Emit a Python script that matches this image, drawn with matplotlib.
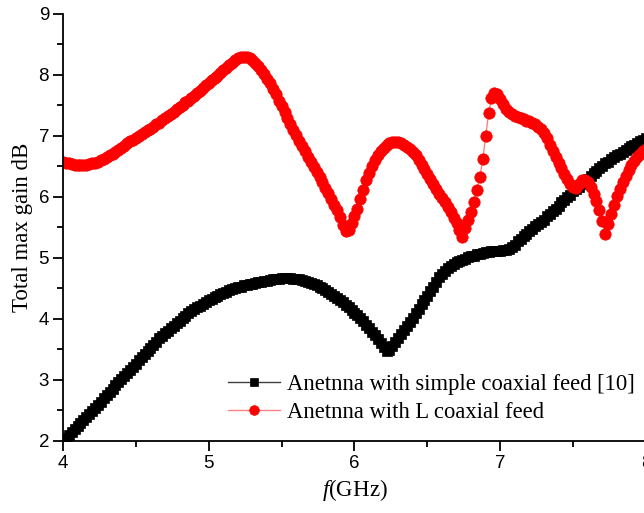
import numpy as np
import matplotlib
matplotlib.use("Agg")
import matplotlib.pyplot as plt
from matplotlib.ticker import MultipleLocator

plt.rcParams["mathtext.fontset"] = "custom"
plt.rcParams["mathtext.rm"] = "Liberation Serif"
plt.rcParams["mathtext.it"] = "Liberation Serif:italic"

# frequency grid (GHz), one sample every 0.02 GHz
freq = np.round(np.arange(4.0, 8.0001, 0.02), 2)

# Anetnna with simple coaxial feed [10]
gain_simple = [
    2.00, 2.05, 2.10, 2.15, 2.19, 2.24, 2.29, 2.34, 2.39, 2.44,
    2.49, 2.54, 2.59, 2.64, 2.70, 2.75, 2.80, 2.85, 2.91, 2.96,
    3.01, 3.06, 3.11, 3.16, 3.22, 3.27, 3.32, 3.37, 3.43, 3.48,
    3.53, 3.58, 3.63, 3.68, 3.72, 3.77, 3.81, 3.85, 3.89, 3.93,
    3.97, 4.01, 4.05, 4.09, 4.13, 4.16, 4.19, 4.22, 4.25, 4.28,
    4.31, 4.33, 4.36, 4.38, 4.41, 4.43, 4.45, 4.47, 4.49, 4.50,
    4.52, 4.53, 4.55, 4.56, 4.57, 4.58, 4.59, 4.60, 4.61, 4.62,
    4.63, 4.64, 4.65, 4.66, 4.66, 4.67, 4.67, 4.67, 4.67, 4.66,
    4.66, 4.65, 4.64, 4.62, 4.61, 4.59, 4.57, 4.55, 4.53, 4.50,
    4.47, 4.44, 4.41, 4.38, 4.34, 4.31, 4.27, 4.23, 4.19, 4.15,
    4.10, 4.06, 4.01, 3.96, 3.90, 3.85, 3.79, 3.73, 3.67, 3.61,
    3.54, 3.47, 3.49, 3.56, 3.63, 3.69, 3.76, 3.82, 3.89, 3.95,
    4.02, 4.09, 4.16, 4.24, 4.31, 4.38, 4.46, 4.53, 4.61, 4.68,
    4.74, 4.79, 4.83, 4.87, 4.90, 4.93, 4.95, 4.97, 4.99, 5.01,
    5.03, 5.04, 5.06, 5.07, 5.08, 5.09, 5.10, 5.11, 5.11, 5.12,
    5.12, 5.13, 5.13, 5.14, 5.18, 5.22, 5.27, 5.31, 5.36, 5.40,
    5.44, 5.48, 5.52, 5.55, 5.59, 5.63, 5.68, 5.72, 5.77, 5.81,
    5.86, 5.91, 5.95, 6.00, 6.04, 6.09, 6.13, 6.17, 6.22, 6.26,
    6.30, 6.34, 6.39, 6.43, 6.47, 6.51, 6.55, 6.58, 6.62, 6.65,
    6.68, 6.71, 6.74, 6.77, 6.80, 6.83, 6.86, 6.89, 6.92, 6.94,
    6.96,
]

# Anetnna with L coaxial feed
gain_l = [
    6.57, 6.56, 6.55, 6.54, 6.53, 6.53, 6.52, 6.53, 6.53, 6.54,
    6.55, 6.56, 6.58, 6.60, 6.62, 6.65, 6.68, 6.71, 6.74, 6.77,
    6.81, 6.84, 6.88, 6.91, 6.94, 6.97, 7.00, 7.03, 7.06, 7.09,
    7.12, 7.15, 7.19, 7.22, 7.26, 7.29, 7.33, 7.36, 7.40, 7.44,
    7.47, 7.51, 7.55, 7.58, 7.62, 7.66, 7.70, 7.74, 7.78, 7.83,
    7.87, 7.91, 7.95, 7.99, 8.04, 8.08, 8.12, 8.16, 8.20, 8.24,
    8.27, 8.29, 8.30, 8.29, 8.27, 8.24, 8.19, 8.14, 8.08, 8.01,
    7.94, 7.86, 7.77, 7.68, 7.58, 7.49, 7.39, 7.29, 7.19, 7.10,
    7.01, 6.92, 6.84, 6.75, 6.66, 6.58, 6.49, 6.41, 6.32, 6.24,
    6.15, 6.06, 5.97, 5.87, 5.78, 5.67, 5.54, 5.44, 5.46, 5.57,
    5.69, 5.80, 5.96, 6.12, 6.28, 6.40, 6.51, 6.61, 6.69, 6.76,
    6.81, 6.85, 6.88, 6.90, 6.90, 6.90, 6.88, 6.85, 6.82, 6.78,
    6.74, 6.68, 6.61, 6.53, 6.46, 6.38, 6.29, 6.21, 6.13, 6.05,
    5.98, 5.91, 5.83, 5.75, 5.66, 5.57, 5.46, 5.35, 5.49, 5.62,
    5.76, 5.92, 6.11, 6.32, 6.62, 7.00, 7.37, 7.62, 7.70, 7.68,
    7.60, 7.52, 7.45, 7.40, 7.36, 7.33, 7.31, 7.29, 7.27, 7.25,
    7.24, 7.22, 7.19, 7.15, 7.11, 7.05, 6.96, 6.86, 6.76, 6.66,
    6.56, 6.47, 6.38, 6.30, 6.22, 6.16, 6.15, 6.22, 6.27, 6.28,
    6.24, 6.16, 6.05, 5.93, 5.78, 5.60, 5.39, 5.55, 5.72, 5.87,
    6.02, 6.13, 6.24, 6.34, 6.44, 6.52, 6.59, 6.65, 6.71, 6.75,
    6.79,
]

labels = ["Anetnna with simple coaxial feed [10]", "Anetnna with L coaxial feed"]

serif = "Liberation Serif"
sans = "Liberation Sans"

fig = plt.figure(figsize=(6.44, 5.13), dpi=100)
ax = fig.add_axes([0.0978, 0.1404, 0.9053, 0.8324])

ax.plot(freq, gain_simple, color="#404040", lw=1.0, marker="s", ms=7.4,
        mfc="black", mec="black", mew=0.5, label=labels[0])
ax.plot(freq, gain_l, color="#ff8080", lw=1.0, marker="o", ms=8.2,
        mfc="red", mec="red", mew=0.5, label=labels[1])

ax.set_xlim(4, 8)
ax.set_ylim(2, 9)
ax.xaxis.set_major_locator(MultipleLocator(1))
ax.xaxis.set_minor_locator(MultipleLocator(0.5))
ax.yaxis.set_major_locator(MultipleLocator(1))
ax.yaxis.set_minor_locator(MultipleLocator(0.5))

ax.spines["top"].set_visible(False)
ax.spines["right"].set_visible(False)
for s in ["left", "bottom"]:
    ax.spines[s].set_linewidth(1.3)

ax.tick_params(which="major", direction="out", length=7, width=1.3,
               labelsize=13.5, pad=3)
ax.tick_params(which="minor", direction="out", length=4, width=1.3)
for lab in ax.get_xticklabels() + ax.get_yticklabels():
    lab.set_fontfamily(sans)

ax.set_xlabel(r"$\mathit{f}$(GHz)", fontsize=16.5, fontfamily=serif)
ax.set_ylabel("Total max gain dB", fontsize=16.5, fontfamily=serif)

leg = ax.legend(loc="upper left", bbox_to_anchor=(0.354, 0.271),
                bbox_transform=fig.transFigure, frameon=False,
                prop={"family": serif, "size": 16.3}, handlelength=2.3,
                handletextpad=0.3, labelspacing=0.3, borderpad=0,
                borderaxespad=0, markerscale=0.85)

fig.savefig("out.png", dpi=100)
